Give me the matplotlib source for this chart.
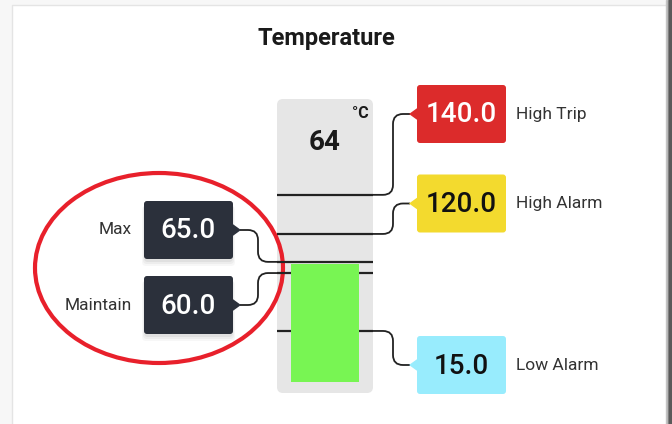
import numpy as np
import matplotlib
matplotlib.use("Agg")
import matplotlib.pyplot as plt
from matplotlib.patches import FancyBboxPatch, Rectangle, Polygon, Ellipse, PathPatch
from matplotlib.path import Path
from matplotlib.scale import FuncScale

plt.rcParams['font.family'] = ['Roboto', 'DejaVu Sans']

# data
title = "Temperature"
unit = "°C"
current = 64
level_names = ["High Trip", "High Alarm", "Max", "Maintain", "Low Alarm"]
level_values = [140.0, 120.0, 65.0, 60.0, 15.0]
level_side = ["right", "right", "left", "left", "right"]
box_colors = ["#dc2b2b", "#f3da2e", "#2b303b", "#2b303b", "#98ecfd"]
text_colors = ["white", "#111111", "white", "white", "#111111"]

# gauge scale (screen is not linear in the widget)
scale_values = np.array([-5, 0, 15, 60, 65, 120, 140, 200])
scale_frac = np.array([0, 0.037, 0.211, 0.408, 0.446, 0.541, 0.674, 1.0])

W, H = 672, 424
fig = plt.figure(figsize=(W / 100, H / 100), dpi=100)
fig.patch.set_facecolor("white")
ax = fig.add_axes([0, 0, 1, 1])
ax.set_xlim(0, W)
ax.set_ylim(H, 0)
ax.axis("off")

# card and screenshot edges
ax.add_patch(Rectangle((0, 0), W, H, color="#f7f7f7", zorder=0))
ax.add_patch(Rectangle((12, 5), 655, 430, facecolor="white", edgecolor="#e4e4e4", lw=1, zorder=0.5))
for x0, w, c in [(666, 1.5, "#c4c4c4"), (667.5, 1.5, "#8a8a8a"), (669, 3, "#5a5a5a")]:
    ax.add_patch(Rectangle((x0, 0), w, H, color=c, zorder=6))

ax.text(326, 38, title, ha="center", va="center", fontsize=17, fontweight="bold", color="#1a1a1a")

# gauge
g_left, g_right, g_top, g_bottom = 277, 373, 99, 393
ax.add_patch(FancyBboxPatch((g_left, g_top), g_right - g_left, g_bottom - g_top,
                            boxstyle="round,pad=0,rounding_size=6", facecolor="#e6e6e6",
                            edgecolor="none", zorder=1))
gx = fig.add_axes([g_left / W, 1 - g_bottom / H, (g_right - g_left) / W, (g_bottom - g_top) / H])
gx.set_yscale(FuncScale(gx, (lambda v: np.interp(v, scale_values, scale_frac),
                             lambda f: np.interp(f, scale_frac, scale_values))))
gx.set_xlim(0, 1)
gx.set_ylim(scale_values[0], scale_values[-1])
gx.patch.set_alpha(0)
gx.axis("off")

gx.hlines(level_values, 0, 1, color="#222222", lw=1.6, zorder=2)
gx.bar(0.5, current - 0, bottom=0, width=0.71, color="#78f553", zorder=3)

ax.text(325, 143, str(current), ha="center", va="center", fontsize=20, fontweight="bold", color="#1a1a1a")
ax.text(369, 113, unit, ha="right", va="center", fontsize=11.5, fontweight="bold", color="#1a1a1a")


def level_pixel_y(v):
    disp = gx.transData.transform((0.5, v))
    return ax.transData.inverted().transform(disp)[1]


def connector(x0, y0, xv, y1, x1, r=10):
    sx1 = np.sign(xv - x0)
    sx2 = np.sign(x1 - xv)
    sy = np.sign(y1 - y0)
    r = min(r, abs(y1 - y0) / 2)
    verts = [(x0, y0), (xv - sx1 * r, y0), (xv, y0), (xv, y0 + sy * r),
             (xv, y1 - sy * r), (xv, y1), (xv + sx2 * r, y1), (x1, y1)]
    codes = [Path.MOVETO, Path.LINETO, Path.CURVE3, Path.CURVE3,
             Path.LINETO, Path.CURVE3, Path.CURVE3, Path.LINETO]
    ax.add_patch(PathPatch(Path(verts, codes), fill=False, edgecolor="#222222", lw=1.3, zorder=2))


# label boxes
right_slots = [114, 203.5, 365]
left_slots = [230, 305]
bw, bh = 89, 58
ri = li = 0
for name, val, side, bc, tc in zip(level_names, level_values, level_side, box_colors, text_colors):
    ly = level_pixel_y(val)
    if side == "right":
        yc = right_slots[ri]; ri += 1
        bx = 417
        connector(g_right, ly, 393, yc, 410)
        tri = [(bx + 1, yc - 6.5), (bx - 8, yc), (bx + 1, yc + 6.5)]
        ax.text(516, yc, name, ha="left", va="center", fontsize=12.5, color="#333333")
    else:
        yc = left_slots[li]; li += 1
        bx = 144
        connector(g_left, ly, 258, yc, 240)
        tri = [(bx + bw - 1, yc - 6.5), (bx + bw + 8, yc), (bx + bw - 1, yc + 6.5)]
        ax.text(132, yc, name, ha="right", va="center", fontsize=12.5, color="#333333")
        for k, a in enumerate([0.05, 0.04, 0.03]):
            ax.add_patch(FancyBboxPatch((bx - k, yc - bh / 2 + 3 + k), bw + 2 * k, bh + k,
                                        boxstyle="round,pad=0,rounding_size=4",
                                        facecolor="black", alpha=a, edgecolor="none", zorder=3))
    ax.add_patch(FancyBboxPatch((bx, yc - bh / 2), bw, bh, boxstyle="round,pad=0,rounding_size=3",
                                facecolor=bc, edgecolor="none", zorder=4))
    ax.add_patch(Polygon(tri, closed=True, facecolor=bc, edgecolor="none", zorder=4))
    ax.text(bx + bw / 2, yc + 1, f"{val:.1f}", ha="center", va="center", fontsize=20,
            fontweight="medium", color=tc, zorder=5)

# highlight ellipse
ax.add_patch(Ellipse((159, 268), 248, 190, fill=False, edgecolor="#e8202b", lw=3, zorder=5))

fig.savefig("out.png", dpi=100)
